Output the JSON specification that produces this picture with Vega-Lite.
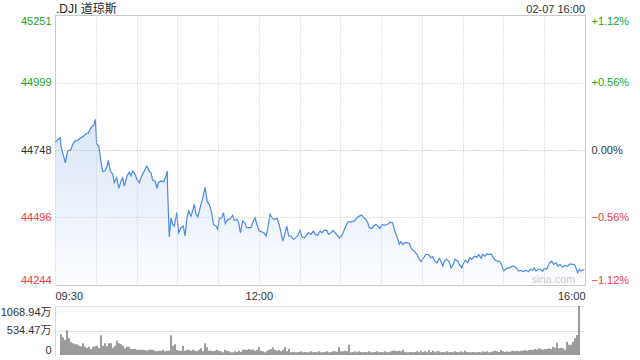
{
  "$schema": "https://vega.github.io/schema/vega-lite/v6.json",
  "padding": {"left": 0, "top": 2, "right": 4, "bottom": 2},
  "background": "#ffffff",
  "config": {
    "font": "Liberation Sans, Noto Sans CJK SC",
    "view": {"stroke": "#cccccc"},
    "axis": {"labelFont": "Liberation Sans, Noto Sans CJK SC", "labelFontSize": 11, "title": null}
  },
  "datasets": {
    "price": [
      {"t":0,"p":44775},{"t":2.0,"p":44787},{"t":3.9,"p":44793},{"t":4.4,"p":44762},{"t":5.9,"p":44732},{"t":7.6,"p":44700},{"t":9.3,"p":44744},{"t":10.5,"p":44746},{"t":11.8,"p":44750},{"t":13.0,"p":44769},{"t":14.7,"p":44781},{"t":16.7,"p":44784},{"t":19.1,"p":44793},{"t":21.1,"p":44800},{"t":22.8,"p":44808},{"t":24.5,"p":44812},{"t":26.5,"p":44831},{"t":28.5,"p":44841},{"t":29.7,"p":44862},{"t":30.7,"p":44769},{"t":32.2,"p":44762},{"t":33.8,"p":44706},{"t":35.1,"p":44667},{"t":36.8,"p":44669},{"t":38.3,"p":44688},{"t":39.2,"p":44709},{"t":40.7,"p":44669},{"t":42.5,"p":44657},{"t":43.6,"p":44626},{"t":45.4,"p":44644},{"t":46.9,"p":44605},{"t":48.6,"p":44632},{"t":49.8,"p":44644},{"t":51.0,"p":44613},{"t":53.0,"p":44651},{"t":54.7,"p":44665},{"t":55.9,"p":44651},{"t":57.2,"p":44669},{"t":58.9,"p":44657},{"t":60.3,"p":44638},{"t":62.0,"p":44626},{"t":63.8,"p":44651},{"t":65.7,"p":44669},{"t":67.5,"p":44688},{"t":69.4,"p":44669},{"t":70.6,"p":44663},{"t":71.9,"p":44635},{"t":73.6,"p":44632},{"t":75.1,"p":44605},{"t":76.0,"p":44626},{"t":78.0,"p":44632},{"t":80.0,"p":44629},{"t":81.7,"p":44651},{"t":82.6,"p":44669},{"t":82.9,"p":44595},{"t":84.1,"p":44423},{"t":85.4,"p":44495},{"t":86.6,"p":44470},{"t":87.8,"p":44464},{"t":89.6,"p":44514},{"t":91.0,"p":44439},{"t":92.7,"p":44458},{"t":94.4,"p":44464},{"t":95.7,"p":44427},{"t":97.1,"p":44495},{"t":98.4,"p":44520},{"t":100.1,"p":44501},{"t":101.3,"p":44520},{"t":102.5,"p":44545},{"t":103.8,"p":44508},{"t":105.0,"p":44498},{"t":106.2,"p":44520},{"t":107.4,"p":44545},{"t":108.7,"p":44567},{"t":110.4,"p":44608},{"t":112.1,"p":44554},{"t":113.5,"p":44545},{"t":115.2,"p":44517},{"t":116.6,"p":44470},{"t":118.5,"p":44464},{"t":119.7,"p":44452},{"t":120.9,"p":44492},{"t":122.7,"p":44495},{"t":124.0,"p":44514},{"t":125.3,"p":44473},{"t":127.1,"p":44489},{"t":128.3,"p":44488},{"t":130.8,"p":44504},{"t":131.9,"p":44485},{"t":133.9,"p":44489},{"t":135.2,"p":44476},{"t":136.4,"p":44439},{"t":138.1,"p":44483},{"t":139.8,"p":44476},{"t":141.1,"p":44458},{"t":142.8,"p":44458},{"t":144.2,"p":44458},{"t":145.9,"p":44483},{"t":147.2,"p":44495},{"t":148.6,"p":44470},{"t":150.3,"p":44445},{"t":152.1,"p":44443},{"t":153.6,"p":44439},{"t":155.3,"p":44427},{"t":156.5,"p":44452},{"t":158.2,"p":44508},{"t":159.7,"p":44495},{"t":161.4,"p":44489},{"t":163.4,"p":44493},{"t":164.6,"p":44476},{"t":165.8,"p":44452},{"t":167.6,"p":44408},{"t":168.7,"p":44427},{"t":170.5,"p":44464},{"t":172.0,"p":44427},{"t":173.7,"p":44427},{"t":175.4,"p":44414},{"t":176.8,"p":44420},{"t":178.6,"p":44427},{"t":180.3,"p":44448},{"t":181.8,"p":44423},{"t":183.4,"p":44420},{"t":185.2,"p":44430},{"t":186.4,"p":44439},{"t":188.4,"p":44433},{"t":190.1,"p":44445},{"t":191.5,"p":44433},{"t":193.3,"p":44430},{"t":195.0,"p":44445},{"t":196.5,"p":44439},{"t":198.2,"p":44449},{"t":199.9,"p":44448},{"t":201.4,"p":44433},{"t":203.1,"p":44439},{"t":204.8,"p":44448},{"t":206.2,"p":44439},{"t":208.0,"p":44427},{"t":209.5,"p":44420},{"t":211.0,"p":44427},{"t":212.4,"p":44445},{"t":214.1,"p":44464},{"t":215.6,"p":44480},{"t":217.8,"p":44480},{"t":220.2,"p":44483},{"t":222.2,"p":44495},{"t":223.9,"p":44501},{"t":225.7,"p":44505},{"t":227.2,"p":44495},{"t":228.8,"p":44489},{"t":230.1,"p":44476},{"t":231.3,"p":44458},{"t":233.0,"p":44455},{"t":234.5,"p":44464},{"t":236.2,"p":44470},{"t":237.5,"p":44464},{"t":239.1,"p":44455},{"t":240.6,"p":44470},{"t":242.3,"p":44467},{"t":244.1,"p":44470},{"t":245.5,"p":44473},{"t":246.7,"p":44479},{"t":248.5,"p":44476},{"t":249.7,"p":44452},{"t":250.9,"p":44433},{"t":252.2,"p":44417},{"t":253.4,"p":44396},{"t":254.6,"p":44406},{"t":255.9,"p":44396},{"t":257.5,"p":44402},{"t":259.0,"p":44402},{"t":260.7,"p":44399},{"t":262.5,"p":44378},{"t":264.4,"p":44371},{"t":266.4,"p":44358},{"t":268.1,"p":44340},{"t":269.3,"p":44331},{"t":271.0,"p":44344},{"t":273.0,"p":44358},{"t":274.7,"p":44358},{"t":276.7,"p":44346},{"t":277.9,"p":44350},{"t":279.6,"p":44333},{"t":281.1,"p":44327},{"t":282.8,"p":44344},{"t":284.0,"p":44333},{"t":285.3,"p":44315},{"t":286.5,"p":44333},{"t":288.2,"p":44340},{"t":290.1,"p":44331},{"t":291.4,"p":44308},{"t":293.1,"p":44321},{"t":294.3,"p":44340},{"t":296.3,"p":44333},{"t":297.5,"p":44321},{"t":299.3,"p":44308},{"t":300.7,"p":44327},{"t":301.9,"p":44336},{"t":303.7,"p":44327},{"t":305.2,"p":44346},{"t":306.6,"p":44340},{"t":308.6,"p":44352},{"t":310.5,"p":44348},{"t":311.8,"p":44358},{"t":313.5,"p":44344},{"t":314.7,"p":44358},{"t":316.4,"p":44352},{"t":317.9,"p":44361},{"t":319.6,"p":44358},{"t":320.8,"p":44361},{"t":322.5,"p":44346},{"t":324.0,"p":44336},{"t":325.8,"p":44333},{"t":327.5,"p":44331},{"t":328.9,"p":44315},{"t":330.2,"p":44296},{"t":331.4,"p":44303},{"t":333.1,"p":44308},{"t":334.8,"p":44308},{"t":336.3,"p":44315},{"t":338.0,"p":44315},{"t":339.7,"p":44306},{"t":341.2,"p":44296},{"t":342.9,"p":44299},{"t":344.6,"p":44294},{"t":346.6,"p":44299},{"t":348.3,"p":44294},{"t":349.7,"p":44303},{"t":351.5,"p":44299},{"t":352.7,"p":44308},{"t":353.9,"p":44296},{"t":355.6,"p":44303},{"t":357.1,"p":44303},{"t":358.9,"p":44296},{"t":360.1,"p":44306},{"t":361.8,"p":44303},{"t":363.8,"p":44327},{"t":365.5,"p":44333},{"t":367.0,"p":44321},{"t":368.7,"p":44327},{"t":369.9,"p":44315},{"t":371.6,"p":44321},{"t":373.6,"p":44311},{"t":375.3,"p":44317},{"t":377.3,"p":44315},{"t":379.0,"p":44323},{"t":380.9,"p":44321},{"t":382.1,"p":44321},{"t":383.4,"p":44308},{"t":384.6,"p":44290},{"t":385.8,"p":44303},{"t":387.1,"p":44296},{"t":388.3,"p":44299},{"t":389.5,"p":44303}
    ],
    "vol": [
      {"t":0.75,"v":451},{"t":2.25,"v":385},{"t":3.75,"v":327},{"t":5.25,"v":538},{"t":6.75,"v":364},{"t":8.25,"v":276},{"t":9.75,"v":254},{"t":11.25,"v":233},{"t":12.75,"v":233},{"t":14.25,"v":204},
      {"t":15.75,"v":189},{"t":17.25,"v":254},{"t":18.75,"v":182},{"t":20.25,"v":153},{"t":21.75,"v":182},{"t":23.25,"v":131},{"t":24.75,"v":182},{"t":26.25,"v":189},{"t":27.75,"v":204},{"t":29.25,"v":153},
      {"t":30.75,"v":429},{"t":32.25,"v":204},{"t":33.75,"v":254},{"t":35.25,"v":189},{"t":36.75,"v":254},{"t":38.25,"v":254},{"t":39.75,"v":160},{"t":41.25,"v":204},{"t":42.75,"v":313},{"t":44.25,"v":254},
      {"t":45.75,"v":233},{"t":47.25,"v":204},{"t":48.75,"v":145},{"t":50.25,"v":182},{"t":51.75,"v":182},{"t":53.25,"v":131},{"t":54.75,"v":131},{"t":56.25,"v":131},{"t":57.75,"v":116},{"t":59.25,"v":116},
      {"t":60.75,"v":116},{"t":62.25,"v":116},{"t":63.75,"v":109},{"t":65.25,"v":95},{"t":66.75,"v":116},{"t":68.25,"v":116},{"t":69.75,"v":116},{"t":71.25,"v":95},{"t":72.75,"v":80},{"t":74.25,"v":95},
      {"t":75.75,"v":95},{"t":77.25,"v":116},{"t":78.75,"v":80},{"t":80.25,"v":95},{"t":81.75,"v":95},{"t":83.25,"v":429},{"t":84.75,"v":204},{"t":86.25,"v":233},{"t":87.75,"v":109},{"t":89.25,"v":95},
      {"t":90.75,"v":95},{"t":92.25,"v":204},{"t":93.75,"v":95},{"t":95.25,"v":109},{"t":96.75,"v":116},{"t":98.25,"v":95},{"t":99.75,"v":116},{"t":101.25,"v":95},{"t":102.75,"v":80},{"t":104.25,"v":116},
      {"t":105.75,"v":145},{"t":107.25,"v":80},{"t":108.75,"v":254},{"t":110.25,"v":167},{"t":111.75,"v":95},{"t":113.25,"v":95},{"t":114.75,"v":80},{"t":116.25,"v":95},{"t":117.75,"v":116},{"t":119.25,"v":95},
      {"t":120.75,"v":80},{"t":122.25,"v":58},{"t":123.75,"v":116},{"t":125.25,"v":95},{"t":126.75,"v":80},{"t":128.25,"v":58},{"t":129.75,"v":58},{"t":131.25,"v":80},{"t":132.75,"v":65},{"t":134.25,"v":95},
      {"t":135.75,"v":70},{"t":137.25,"v":120},{"t":138.75,"v":116},{"t":140.25,"v":109},{"t":141.75,"v":131},{"t":143.25,"v":116},{"t":144.75,"v":120},{"t":146.25,"v":95},{"t":147.75,"v":116},{"t":149.25,"v":167},
      {"t":150.75,"v":95},{"t":152.25,"v":80},{"t":153.75,"v":58},{"t":155.25,"v":95},{"t":156.75,"v":116},{"t":158.25,"v":131},{"t":159.75,"v":167},{"t":161.25,"v":116},{"t":162.75,"v":95},{"t":164.25,"v":109},
      {"t":165.75,"v":80},{"t":167.25,"v":116},{"t":168.75,"v":167},{"t":170.25,"v":80},{"t":171.75,"v":131},{"t":173.25,"v":58},{"t":174.75,"v":65},{"t":176.25,"v":58},{"t":177.75,"v":58},{"t":179.25,"v":65},
      {"t":180.75,"v":80},{"t":182.25,"v":58},{"t":183.75,"v":65},{"t":185.25,"v":58},{"t":186.75,"v":58},{"t":188.25,"v":80},{"t":189.75,"v":58},{"t":191.25,"v":65},{"t":192.75,"v":58},{"t":194.25,"v":80},
      {"t":195.75,"v":58},{"t":197.25,"v":58},{"t":198.75,"v":65},{"t":200.25,"v":80},{"t":201.75,"v":58},{"t":203.25,"v":65},{"t":204.75,"v":80},{"t":206.25,"v":80},{"t":207.75,"v":70},{"t":209.25,"v":167},
      {"t":210.75,"v":80},{"t":212.25,"v":80},{"t":213.75,"v":95},{"t":215.25,"v":80},{"t":216.75,"v":225},{"t":218.25,"v":58},{"t":219.75,"v":65},{"t":221.25,"v":80},{"t":222.75,"v":58},{"t":224.25,"v":80},
      {"t":225.75,"v":65},{"t":227.25,"v":58},{"t":228.75,"v":65},{"t":230.25,"v":58},{"t":231.75,"v":80},{"t":233.25,"v":58},{"t":234.75,"v":58},{"t":236.25,"v":65},{"t":237.75,"v":80},{"t":239.25,"v":58},
      {"t":240.75,"v":65},{"t":242.25,"v":58},{"t":243.75,"v":80},{"t":245.25,"v":65},{"t":246.75,"v":58},{"t":248.25,"v":80},{"t":249.75,"v":95},{"t":251.25,"v":95},{"t":252.75,"v":80},{"t":254.25,"v":95},
      {"t":255.75,"v":80},{"t":257.25,"v":116},{"t":258.75,"v":65},{"t":260.25,"v":58},{"t":261.75,"v":58},{"t":263.25,"v":65},{"t":264.75,"v":58},{"t":266.25,"v":65},{"t":267.75,"v":80},{"t":269.25,"v":58},
      {"t":270.75,"v":95},{"t":272.25,"v":65},{"t":273.75,"v":80},{"t":275.25,"v":58},{"t":276.75,"v":109},{"t":278.25,"v":65},{"t":279.75,"v":95},{"t":281.25,"v":58},{"t":282.75,"v":80},{"t":284.25,"v":80},
      {"t":285.75,"v":58},{"t":287.25,"v":65},{"t":288.75,"v":58},{"t":290.25,"v":80},{"t":291.75,"v":58},{"t":293.25,"v":65},{"t":294.75,"v":58},{"t":296.25,"v":80},{"t":297.75,"v":65},{"t":299.25,"v":58},
      {"t":300.75,"v":80},{"t":302.25,"v":58},{"t":303.75,"v":95},{"t":305.25,"v":65},{"t":306.75,"v":58},{"t":308.25,"v":58},{"t":309.75,"v":65},{"t":311.25,"v":58},{"t":312.75,"v":58},{"t":314.25,"v":65},
      {"t":315.75,"v":58},{"t":317.25,"v":80},{"t":318.75,"v":65},{"t":320.25,"v":80},{"t":321.75,"v":58},{"t":323.25,"v":65},{"t":324.75,"v":80},{"t":326.25,"v":95},{"t":327.75,"v":80},{"t":329.25,"v":65},
      {"t":330.75,"v":109},{"t":332.25,"v":80},{"t":333.75,"v":65},{"t":335.25,"v":80},{"t":336.75,"v":65},{"t":338.25,"v":80},{"t":339.75,"v":95},{"t":341.25,"v":80},{"t":342.75,"v":95},{"t":344.25,"v":80},
      {"t":345.75,"v":95},{"t":347.25,"v":95},{"t":348.75,"v":109},{"t":350.25,"v":95},{"t":351.75,"v":109},{"t":353.25,"v":116},{"t":354.75,"v":109},{"t":356.25,"v":131},{"t":357.75,"v":116},{"t":359.25,"v":145},
      {"t":360.75,"v":131},{"t":362.25,"v":116},{"t":363.75,"v":131},{"t":365.25,"v":131},{"t":366.75,"v":145},{"t":368.25,"v":131},{"t":369.75,"v":182},{"t":371.25,"v":160},{"t":372.75,"v":269},{"t":374.25,"v":145},
      {"t":375.75,"v":160},{"t":377.25,"v":145},{"t":378.75,"v":116},{"t":380.25,"v":291},{"t":381.75,"v":225},{"t":383.25,"v":225},{"t":384.75,"v":291},{"t":386.25,"v":364},{"t":387.75,"v":436},{"t":389.25,"v":1068.94}
    ]
  },
  "vconcat": [
    {
      "width": 530,
      "height": 270,
      "layer": [
        {
          "data": {"name": "price"},
          "mark": {
            "type": "area",
            "clip": true,
            "fill": {
              "gradient": "linear", "x1": 0, "y1": 0, "x2": 0, "y2": 1,
              "stops": [{"offset": 0, "color": "#dae6f8"}, {"offset": 1, "color": "#fcfdff"}]
            }
          },
          "encoding": {
            "x": {
              "field": "t", "type": "quantitative",
              "scale": {"domain": [0, 390], "nice": false, "zero": false},
              "axis": {
                "values": [0, 30, 60, 90, 120, 150, 180, 210, 240, 270, 300, 330, 360, 390],
                "labelExpr": "datum.value == 0 ? '09:30' : datum.value == 150 ? '12:00' : datum.value == 390 ? '16:00' : ''",
                "labelFlush": true, "labelOverlap": false, "labelColor": "#333333",
                "ticks": false, "domain": false, "labelPadding": 5, "zindex": 1,
                "grid": true, "gridColor": "#c8c8c8", "gridDash": [1, 2]
              }
            },
            "y": {
              "field": "p", "type": "quantitative",
              "scale": {"domain": [44244.26, 45251.0], "nice": false, "zero": false},
              "axis": {
                "orient": "left",
                "values": [44244.26, 44495.95, 44747.63, 44999.31, 45251.0],
                "labelExpr": "format(datum.value, '.0f')",
                "labelFlush": true, "labelOverlap": false, "zindex": 1,
                "ticks": false, "domain": false, "labelPadding": 4,
                "grid": true, "gridDash": [1, 2],
                "gridColor": {"condition": {"test": "abs(datum.value - 44747.63) < 1", "value": "#a8a8a8"}, "value": "#c8c8c8"},
                "labelColor": {"condition": [{"test": "datum.value > 44748", "value": "#22a322"}, {"test": "datum.value < 44747", "value": "#ee3b3b"}], "value": "#333333"}
              }
            },
            "y2": {"datum": 44244.26}
          }
        },
        {
          "data": {"name": "price"},
          "mark": {"type": "line", "color": "#4a89e8", "strokeWidth": 1.2},
          "encoding": {
            "x": {"field": "t", "type": "quantitative"},
            "y": {
              "field": "p", "type": "quantitative",
              "axis": {
                "orient": "right",
                "values": [44244.26, 44495.95, 44747.63, 44999.31, 45251.0],
                "labelExpr": "(datum.value > 44748 ? '+' : '') + format((datum.value - 44747.63) / 44747.63 * 100, '.2f') + '%'",
                "labelFlush": true, "labelOverlap": false,
                "ticks": false, "domain": false, "labelPadding": 6, "grid": false,
                "labelColor": {"condition": [{"test": "datum.value > 44748", "value": "#22a322"}, {"test": "datum.value < 44747", "value": "#ee3b3b"}], "value": "#333333"}
              }
            }
          }
        },
        {
          "data": {"values": [{}]},
          "mark": {"type": "text", "align": "left", "baseline": "alphabetic", "dy": -2, "dx": 1, "fontSize": 12, "color": "#222222", "font": "Liberation Sans, Noto Sans CJK SC"},
          "encoding": {
            "x": {"datum": 0, "type": "quantitative"},
            "y": {"datum": 45251.0, "type": "quantitative", "axis": null},
            "text": {"value": ".DJI 道琼斯"}
          }
        },
        {
          "data": {"values": [{}]},
          "mark": {"type": "text", "align": "right", "baseline": "alphabetic", "dy": -2, "fontSize": 11, "color": "#333333"},
          "encoding": {
            "x": {"datum": 390, "type": "quantitative"},
            "y": {"datum": 45251.0, "type": "quantitative", "axis": null},
            "text": {"value": "02-07 16:00"}
          }
        },
        {
          "data": {"values": [{}]},
          "mark": {"type": "text", "align": "center", "baseline": "middle", "fontSize": 11, "color": "#cccccc"},
          "encoding": {
            "x": {"datum": 366.8, "type": "quantitative"},
            "y": {"datum": 44263, "type": "quantitative", "axis": null},
            "text": {"value": "sina.com"}
          }
        }
      ],
      "resolve": {"axis": {"y": "independent"}}
    },
    {
      "width": 530,
      "height": 49,
      "view": {"stroke": null},
      "data": {"name": "vol"},
      "mark": {"type": "bar", "color": "#5a5a5a", "width": 1.2},
      "encoding": {
        "x": {"field": "t", "type": "quantitative", "scale": {"domain": [0, 390], "nice": false, "zero": false}, "axis": null},
        "y": {
          "field": "v", "type": "quantitative",
          "scale": {"domain": [0, 1068.94], "nice": false},
          "axis": {
            "values": [0, 534.47, 1068.94],
            "labelExpr": "datum.value == 0 ? '0' : format(datum.value, '.2f') + '万'",
            "labelFlush": true, "labelOverlap": false, "labelColor": "#333333",
            "ticks": false, "domain": true, "domainColor": "#d8d8d8", "labelPadding": 4,
            "grid": true, "gridColor": "#c8c8c8", "gridDash": [1, 1],
            "gridOpacity": {"condition": {"test": "datum.value == 0", "value": 0}, "value": 1}
          }
        }
      }
    }
  ],
  "spacing": 21,
  "bounds": "flush"
}
